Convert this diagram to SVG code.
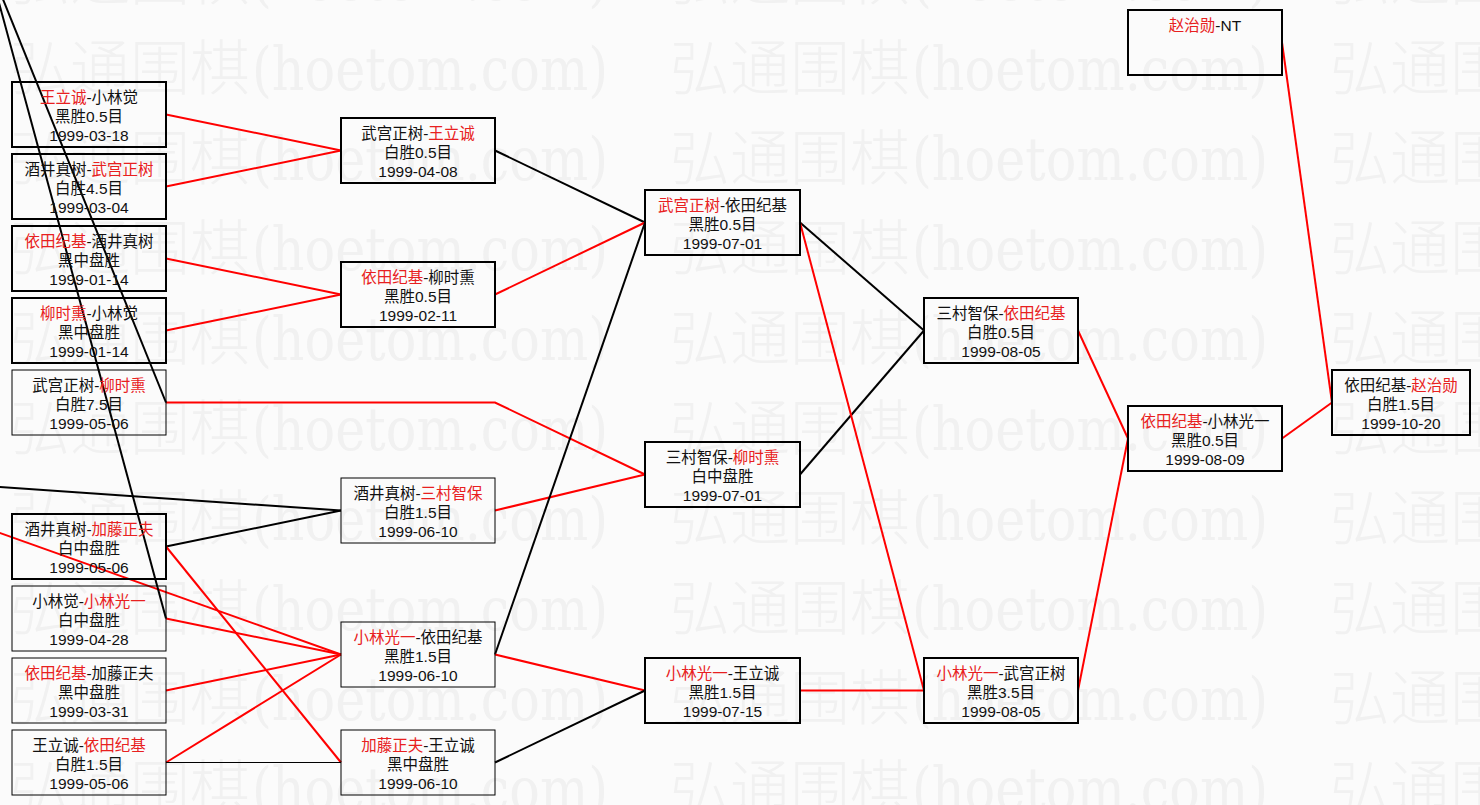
<svg xmlns="http://www.w3.org/2000/svg" width="1480" height="805" viewBox="0 0 1480 805">
<style>
.bx{fill:none;stroke:#000;stroke-width:2}
.bt{fill:none;stroke:#000;stroke-width:1}
.t{font-family:"Liberation Sans","Noto Sans CJK SC","Noto Sans CJK JP",sans-serif;font-size:15.5px;fill:#111;text-anchor:middle}
.r{fill:#e82020}
.lr{stroke:#f00;stroke-width:2;fill:none}
.lk{stroke:#000;stroke-width:2;fill:none}
.lk1{stroke:#000;stroke-width:1;fill:none}
.wmc{font-family:"Noto Sans CJK SC",sans-serif;font-size:60px;font-weight:300;fill:#f1f1f1}
.wml{font-family:"DejaVu Serif",serif;font-size:60px;fill:#f1f1f1}
</style>
<defs>
<pattern id="wm" patternUnits="userSpaceOnUse" x="0" y="20" width="660" height="90">
<text x="10" y="70" class="wmc">弘通围棋</text>
<text x="252" y="70" class="wml" textLength="356" lengthAdjust="spacingAndGlyphs">(hoetom.com)</text>
</pattern>
</defs>
<rect width="1480" height="805" fill="#fbfbfb"/>
<rect width="1480" height="805" fill="url(#wm)"/>
<g id="connectors">
<line class="lr" x1="166" y1="114.5" x2="341" y2="150.5"/>
<line class="lr" x1="166" y1="186.5" x2="341" y2="150.5"/>
<line class="lr" x1="166" y1="258.5" x2="341" y2="294.5"/>
<line class="lr" x1="166" y1="330.5" x2="341" y2="294.5"/>
<polyline class="lr" points="166,402.5 495,402.5 645,474.5"/>
<line class="lk" x1="-5" y1="486.7" x2="341" y2="510.5"/>
<line class="lk" x1="166" y1="546.5" x2="341" y2="510.5"/>
<line class="lr" x1="166" y1="546.5" x2="341" y2="762.5"/>
<line class="lr" x1="-5" y1="531.2" x2="341" y2="654.5"/>
<line class="lr" x1="166" y1="618.5" x2="341" y2="654.5"/>
<line class="lr" x1="166" y1="690.5" x2="341" y2="654.5"/>
<line class="lr" x1="166" y1="762.5" x2="341" y2="654.5"/>
<line class="lk1" x1="166" y1="762.5" x2="341" y2="762.5"/>
<line class="lk" x1="-7.2" y1="-20" x2="166" y2="618.5"/>
<line class="lk" x1="-4.8" y1="-20" x2="166" y2="402.5"/>
<line class="lk" x1="495" y1="150.5" x2="645" y2="222.5"/>
<line class="lr" x1="495" y1="294.5" x2="645" y2="222.5"/>
<line class="lr" x1="495" y1="510.5" x2="645" y2="474.5"/>
<line class="lk" x1="495" y1="654.5" x2="645" y2="222.5"/>
<line class="lr" x1="495" y1="654.5" x2="645" y2="690.5"/>
<line class="lk" x1="495" y1="762.5" x2="645" y2="690.5"/>
<line class="lk" x1="800" y1="222.5" x2="924" y2="330.5"/>
<line class="lk" x1="800" y1="474.5" x2="924" y2="330.5"/>
<line class="lr" x1="800" y1="222.5" x2="924" y2="690.5"/>
<line class="lr" x1="800" y1="690.5" x2="924" y2="690.5"/>
<line class="lr" x1="1078" y1="330.5" x2="1128" y2="438.5"/>
<line class="lr" x1="1078" y1="690.5" x2="1128" y2="438.5"/>
<line class="lr" x1="1282" y1="42.5" x2="1332" y2="402.5"/>
<line class="lr" x1="1282" y1="438.5" x2="1332" y2="402.5"/>
</g>
<g id="n1"><rect class="bx" x="12" y="82" width="154" height="65"/><text class="t" x="89" y="103"><tspan class="r">王立诚</tspan>-小林觉<tspan x="89" dy="19">黑胜0.5目</tspan><tspan x="89" dy="19">1999-03-18</tspan></text></g>
<g id="n2"><rect class="bx" x="12" y="154" width="154" height="65"/><text class="t" x="89" y="175">酒井真树-<tspan class="r">武宫正树</tspan><tspan x="89" dy="19">白胜4.5目</tspan><tspan x="89" dy="19">1999-03-04</tspan></text></g>
<g id="n3"><rect class="bx" x="12" y="226" width="154" height="65"/><text class="t" x="89" y="247"><tspan class="r">依田纪基</tspan>-酒井真树<tspan x="89" dy="19">黑中盘胜</tspan><tspan x="89" dy="19">1999-01-14</tspan></text></g>
<g id="n4"><rect class="bx" x="12" y="298" width="154" height="65"/><text class="t" x="89" y="319"><tspan class="r">柳时熏</tspan>-小林觉<tspan x="89" dy="19">黑中盘胜</tspan><tspan x="89" dy="19">1999-01-14</tspan></text></g>
<g id="n5"><rect class="bt" x="12" y="370" width="154" height="65"/><text class="t" x="89" y="391">武宫正树-<tspan class="r">柳时熏</tspan><tspan x="89" dy="19">白胜7.5目</tspan><tspan x="89" dy="19">1999-05-06</tspan></text></g>
<g id="n6"><rect class="bx" x="12" y="514" width="154" height="65"/><text class="t" x="89" y="535">酒井真树-<tspan class="r">加藤正夫</tspan><tspan x="89" dy="19">白中盘胜</tspan><tspan x="89" dy="19">1999-05-06</tspan></text></g>
<g id="n7"><rect class="bt" x="12" y="586" width="154" height="65"/><text class="t" x="89" y="607">小林觉-<tspan class="r">小林光一</tspan><tspan x="89" dy="19">白中盘胜</tspan><tspan x="89" dy="19">1999-04-28</tspan></text></g>
<g id="n8"><rect class="bt" x="12" y="658" width="154" height="65"/><text class="t" x="89" y="679"><tspan class="r">依田纪基</tspan>-加藤正夫<tspan x="89" dy="19">黑中盘胜</tspan><tspan x="89" dy="19">1999-03-31</tspan></text></g>
<g id="n9"><rect class="bt" x="12" y="730" width="154" height="65"/><text class="t" x="89" y="751">王立诚-<tspan class="r">依田纪基</tspan><tspan x="89" dy="19">白胜1.5目</tspan><tspan x="89" dy="19">1999-05-06</tspan></text></g>
<g id="n10"><rect class="bx" x="341" y="118" width="154" height="65"/><text class="t" x="418" y="139">武宫正树-<tspan class="r">王立诚</tspan><tspan x="418" dy="19">白胜0.5目</tspan><tspan x="418" dy="19">1999-04-08</tspan></text></g>
<g id="n11"><rect class="bx" x="341" y="262" width="154" height="65"/><text class="t" x="418" y="283"><tspan class="r">依田纪基</tspan>-柳时熏<tspan x="418" dy="19">黑胜0.5目</tspan><tspan x="418" dy="19">1999-02-11</tspan></text></g>
<g id="n12"><rect class="bt" x="341" y="478" width="154" height="65"/><text class="t" x="418" y="499">酒井真树-<tspan class="r">三村智保</tspan><tspan x="418" dy="19">白胜1.5目</tspan><tspan x="418" dy="19">1999-06-10</tspan></text></g>
<g id="n13"><rect class="bt" x="341" y="622" width="154" height="65"/><text class="t" x="418" y="643"><tspan class="r">小林光一</tspan>-依田纪基<tspan x="418" dy="19">黑胜1.5目</tspan><tspan x="418" dy="19">1999-06-10</tspan></text></g>
<g id="n14"><rect class="bt" x="341" y="730" width="154" height="65"/><text class="t" x="418" y="751"><tspan class="r">加藤正夫</tspan>-王立诚<tspan x="418" dy="19">黑中盘胜</tspan><tspan x="418" dy="19">1999-06-10</tspan></text></g>
<g id="n15"><rect class="bx" x="645" y="190" width="155" height="65"/><text class="t" x="722.5" y="211"><tspan class="r">武宫正树</tspan>-依田纪基<tspan x="722.5" dy="19">黑胜0.5目</tspan><tspan x="722.5" dy="19">1999-07-01</tspan></text></g>
<g id="n16"><rect class="bx" x="645" y="442" width="155" height="65"/><text class="t" x="722.5" y="463">三村智保-<tspan class="r">柳时熏</tspan><tspan x="722.5" dy="19">白中盘胜</tspan><tspan x="722.5" dy="19">1999-07-01</tspan></text></g>
<g id="n17"><rect class="bx" x="645" y="658" width="155" height="65"/><text class="t" x="722.5" y="679"><tspan class="r">小林光一</tspan>-王立诚<tspan x="722.5" dy="19">黑胜1.5目</tspan><tspan x="722.5" dy="19">1999-07-15</tspan></text></g>
<g id="n18"><rect class="bx" x="924" y="298" width="154" height="65"/><text class="t" x="1001" y="319">三村智保-<tspan class="r">依田纪基</tspan><tspan x="1001" dy="19">白胜0.5目</tspan><tspan x="1001" dy="19">1999-08-05</tspan></text></g>
<g id="n19"><rect class="bx" x="924" y="658" width="154" height="65"/><text class="t" x="1001" y="679"><tspan class="r">小林光一</tspan>-武宫正树<tspan x="1001" dy="19">黑胜3.5目</tspan><tspan x="1001" dy="19">1999-08-05</tspan></text></g>
<g id="n20"><rect class="bx" x="1128" y="10" width="154" height="65"/><text class="t" x="1205" y="31"><tspan class="r">赵治勋</tspan>-NT</text></g>
<g id="n21"><rect class="bx" x="1128" y="406" width="154" height="65"/><text class="t" x="1205" y="427"><tspan class="r">依田纪基</tspan>-小林光一<tspan x="1205" dy="19">黑胜0.5目</tspan><tspan x="1205" dy="19">1999-08-09</tspan></text></g>
<g id="n22"><rect class="bx" x="1332" y="370" width="138" height="65"/><text class="t" x="1401" y="391">依田纪基-<tspan class="r">赵治勋</tspan><tspan x="1401" dy="19">白胜1.5目</tspan><tspan x="1401" dy="19">1999-10-20</tspan></text></g>
</svg>
